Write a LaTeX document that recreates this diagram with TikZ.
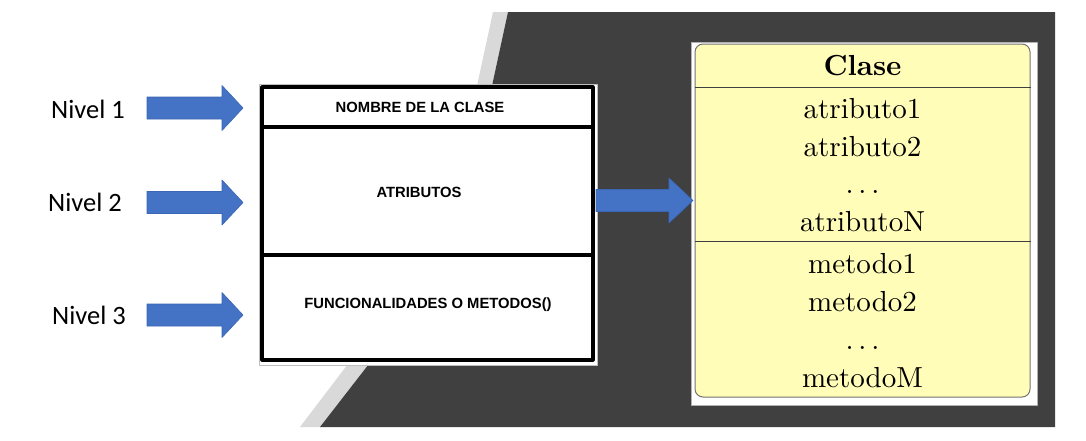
\documentclass[tikz,border=0pt]{standalone}
\usepackage{fontspec}
\newfontfamily\nivelfont{Carlito}
\newfontfamily\arialfont{Liberation Sans}
\newfontfamily\lmdiez{lmroman10-regular}[Extension=.otf, BoldFont=lmroman10-bold]
\usetikzlibrary{positioning}
\definecolor{fondo}{HTML}{404040}
\definecolor{franja}{HTML}{D9D9D9}
\definecolor{azul}{HTML}{4472C4}
\definecolor{azulborde}{HTML}{3B66B5}
\definecolor{amarillo}{HTML}{FFFDB8}
\tikzset{
	nivel/.style={anchor=base, font=\nivelfont\fontsize{26.5}{30}\selectfont},
	flecha/.style={fill=azul, draw=azulborde, line width=0.6pt},
	parte/.style={draw, line width=3.2pt, minimum width=331pt, inner sep=0pt},
	rotulo/.style={anchor=base, font=\arialfont\bfseries\fontsize{14.8}{16}\selectfont},
	linea/.style={anchor=base, font=\lmdiez\fontsize{29}{36}\selectfont}
}
% flecha de bloque: y centro, x inicio, x cuello, x punta
\newcommand{\bloque}[4]{%
	\filldraw[flecha] (#2,#1-11) -- (#3,#1-11) -- (#3,#1-22.5) -- (#4,#1)
	-- (#3,#1+22.5) -- (#3,#1+11) -- (#2,#1+11) -- cycle;}
\begin{document}
\begin{tikzpicture}[x=1pt, y=-1pt, line join=round]
	\useasboundingbox (0,0) rectangle (1086,440);
	\fill[white] (0,0) rectangle (1086,440);
	% fondo de la diapositiva
	\fill[franja] (493,12) -- (508,12) -- (490,95) -- (372,360) -- (320,427)
	-- (300,427) -- (351,360) -- (475,95) -- cycle;
	\fill[fondo] (508,12) -- (1055,12) -- (1055,427) -- (320,427) -- (372,360)
	-- (490,95) -- cycle;
	% niveles
	\node[nivel] (n1) at (88,118) {Nivel 1};
	\node[nivel] (n2) at (85,211) {Nivel 2};
	\node[nivel] (n3) at (89,324) {Nivel 3};
	\bloque{108}{147}{222}{243}
	\bloque{202.5}{147}{222}{243}
	\bloque{315}{147}{222}{243}
	% caja esquematica
	\fill[white, draw=gray!50, thin] (259,84) rectangle (597,365);
	\node[parte, minimum height=40pt] (nombre) at (427.5,107) {};
	\node[parte, minimum height=128pt] (atrib) at (427.5,191) {};
	\node[parte, minimum height=105pt] (funcs) at (427.5,307.5) {};
	\node[rotulo] (tnombre) at (420,112) {NOMBRE DE LA CLASE};
	\node[rotulo] (tatrib) at (419,197) {ATRIBUTOS};
	\node[rotulo] (tfuncs) at (428,308) {FUNCIONALIDADES O METODOS()};
	% caja UML
	\node[draw=gray!60, fill=white, minimum width=346pt, minimum height=363pt] (marco) at (864,223.5) {};
	\node[fill=amarillo, draw=black!55, line width=1pt, rounded corners=8pt,
		minimum width=335pt, minimum height=353pt] (clase) at (862.5,220.5) {};
	\draw[black!75, line width=1pt] (clase.west |- 0,87) -- (clase.east |- 0,87);
	\draw[black!75, line width=1pt] (clase.west |- 0,241) -- (clase.east |- 0,241);
	\node[linea] (titulo) at (862.5,75) {\textbf{Clase}};
	\node[linea] (a1) at (862.5,118) {atributo1};
	\node[linea] (a2) at (862.5,156) {atributo2};
	\node[linea] (ad) at (862.5,193) {.\,.\,.};
	\node[linea] (aN) at (862.5,231) {atributoN};
	\node[linea] (m1) at (862.5,273) {metodo1};
	\node[linea] (m2) at (862.5,311) {metodo2};
	\node[linea] (md) at (862.5,349) {.\,.\,.};
	\node[linea] (mM) at (862.5,387) {metodoM};
	% flecha central
	\bloque{200.5}{596}{669}{693}
\end{tikzpicture}
\end{document}
